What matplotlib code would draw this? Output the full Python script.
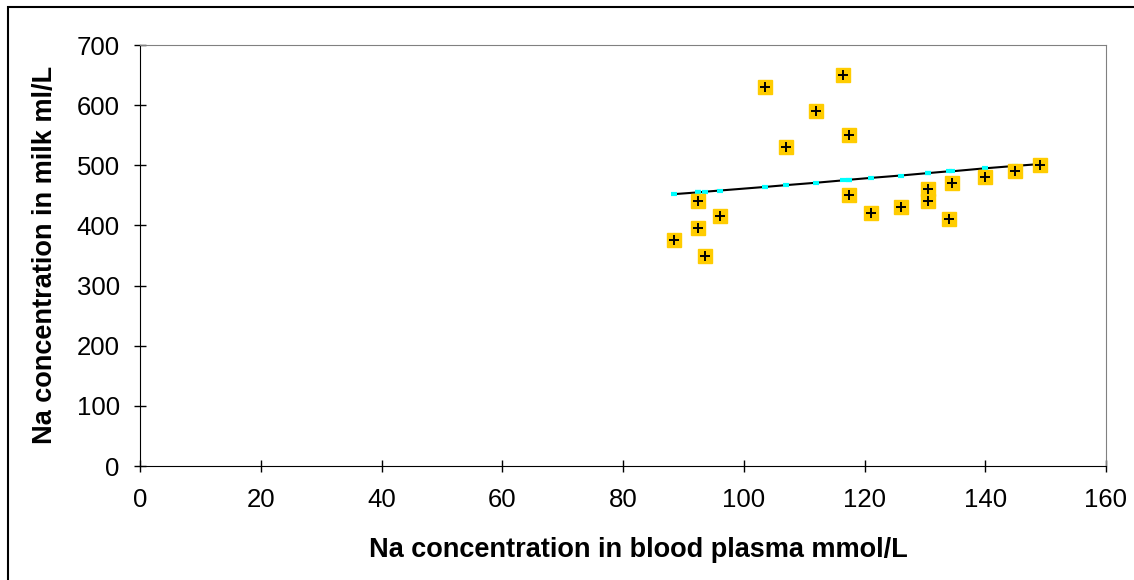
import matplotlib
matplotlib.use("Agg")
import matplotlib.pyplot as plt
from matplotlib.patches import Rectangle

# Na in blood plasma (mmol/L) vs Na in milk
plasma = [88.4, 92.5, 92.5, 93.5, 96.0, 103.5, 107.0, 112.0, 116.5, 117.5,
          117.5, 121.0, 126.0, 130.5, 130.5, 134.0, 134.5, 140.0, 145.0, 149.0]
milk = [375, 440, 395, 350, 415, 630, 530, 590, 650, 550,
        450, 420, 430, 460, 440, 410, 470, 480, 490, 500]
# predicted (trend) values
predicted = [452, 455, 455, 456, 458, 464, 467, 471, 475, 476,
             476, 479, 483, 487, 487, 490, 490, 495, 499, 502]

xticks = [0, 20, 40, 60, 80, 100, 120, 140, 160]
yticks = [0, 100, 200, 300, 400, 500, 600, 700]

plt.rcParams["font.family"] = ["Liberation Sans", "DejaVu Sans"]

fig = plt.figure(figsize=(11.34, 5.8), dpi=100)
ax = fig.add_axes([140 / 1134, 1 - 466 / 580, 966 / 1134, 421 / 580])

ax.plot(plasma, predicted, color="black", lw=1.5, zorder=2)
ax.plot(plasma, predicted, ls="none", marker="_", ms=5, mew=3,
        color="#00FFFF", zorder=3)
ax.plot(plasma, milk, ls="none", marker="s", ms=9.5, mfc="#FFCC00",
        mec="#FFCC00", zorder=4)
ax.plot(plasma, milk, ls="none", marker="+", ms=6.5, mew=1.4,
        color="black", zorder=5)

ax.set_xlim(0, 160)
ax.set_ylim(0, 700)
ax.set_xticks(xticks)
ax.set_yticks(yticks)
ax.tick_params(direction="inout", length=9, width=1, labelsize=18.5)
ax.tick_params(axis="x", pad=11)
ax.tick_params(axis="y", pad=10)

for side in ("top", "right"):
    ax.spines[side].set_color("#808080")
for side in ("left", "bottom"):
    ax.spines[side].set_color("black")

fig.text(638 / 1134, 1 - 550 / 580, "Na concentration in blood plasma mmol/L",
         ha="center", va="center", fontsize=19.5, fontweight="bold")
fig.text(45 / 1134, 1 - 255 / 580, "Na concentration in milk ml/L",
         ha="center", va="center", rotation=90, fontsize=19.5, fontweight="bold")

fig.patches.append(Rectangle((8 / 1134, -0.1), 1.2, 1 - 7 / 580 + 0.1,
                             transform=fig.transFigure, fill=False,
                             edgecolor="black", lw=1.5))

fig.savefig("out.png", dpi=100)
